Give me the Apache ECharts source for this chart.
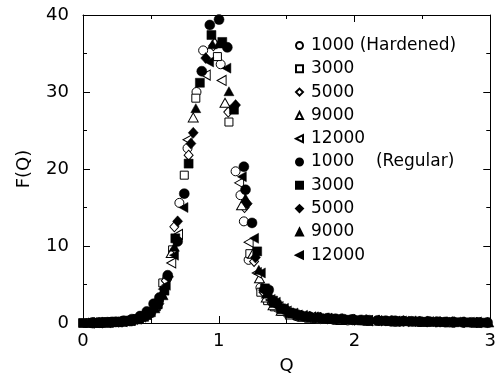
<!DOCTYPE html>
<html>
<head>
<meta charset="utf-8">
<script src="https://cdn.jsdelivr.net/npm/echarts@6/dist/echarts.min.js"></script>
<style>html,body{margin:0;padding:0;background:#fff}#c{width:499px;height:380px}</style>
</head>
<body>
<div id="c"></div>
<script>
// ---- data (Q, F(Q)) ----
const hard1000Q = [0.06,0.12,0.19,0.25,0.31,0.37,0.43,0.50,0.56,0.62,0.71,0.77,0.836,0.885,1.014,1.124,1.16,1.185,1.22,1.307,1.37,1.43,1.50,1.57,1.65,1.75,1.85,1.95,2.1,2.3,2.5,2.7,2.9];
const hard1000F = [0.03,0.06,0.1,0.16,0.25,0.45,0.8,1.5,2.9,5.8,15.6,22.7,30.0,35.4,33.6,19.7,16.6,13.2,8.2,4.6,3.0,2.0,1.3,0.9,0.6,0.5,0.4,0.33,0.25,0.18,0.13,0.1,0.06];

const hard3000Q = [0,0.05,0.09,0.13,0.18,0.22,0.27,0.31,0.36,0.40,0.45,0.49,0.54,0.588,0.66,0.746,0.831,0.99,1.075,1.229,1.31,1.36,1.41,1.46,1.52,1.6,1.7,1.8,1.9,2.05,2.25,2.45,2.65,2.85];
const hard3000F = [0,0.02,0.04,0.06,0.09,0.12,0.17,0.24,0.35,0.55,0.85,1.3,2.1,5.2,9.5,19.2,29.2,34.6,26.1,9.0,4.0,2.9,2.1,1.5,1.1,0.8,0.6,0.48,0.4,0.3,0.22,0.16,0.12,0.08];

const hard5000Q = [0.07,0.14,0.21,0.28,0.35,0.42,0.48,0.55,0.61,0.673,0.778,0.96,1.07,1.19,1.26,1.33,1.39,1.46,1.55,1.65,1.8,2.0,2.2,2.4,2.6,2.8];
const hard5000F = [0.03,0.06,0.1,0.17,0.3,0.6,1.2,2.6,5.5,12.5,21.8,36.0,27.4,15.0,8.0,4.0,2.6,1.7,1.1,0.8,0.55,0.4,0.28,0.2,0.14,0.09];

const hard9000Q = [0.04,0.10,0.16,0.22,0.28,0.34,0.40,0.46,0.52,0.58,0.65,0.812,0.97,1.046,1.168,1.25,1.30,1.35,1.40,1.46,1.53,1.62,1.75,1.9,2.1,2.3,2.5,2.7,2.9];
const hard9000F = [0.02,0.04,0.07,0.12,0.2,0.33,0.6,1.1,2.0,3.8,9.1,26.7,36.5,28.6,15.3,9.0,5.8,3.3,2.3,1.6,1.1,0.8,0.55,0.4,0.28,0.2,0.15,0.1,0.07];

const hard12000Q = [0.05,0.11,0.17,0.23,0.29,0.35,0.41,0.47,0.53,0.59,0.65,0.70,0.77,0.904,1.021,1.15,1.22,1.28,1.33,1.38,1.44,1.5,1.58,1.68,1.8,1.95,2.1,2.3,2.5,2.7,2.9];
const hard12000F = [0.02,0.05,0.08,0.13,0.22,0.38,0.7,1.3,2.3,4.4,7.8,11.5,23.8,32.2,31.5,18.2,10.5,6.5,4.2,3.0,2.1,1.5,1.0,0.75,0.55,0.42,0.32,0.23,0.17,0.12,0.08];

const reg1000Q = [0.065,0.12,0.18,0.24,0.30,0.36,0.42,0.47,0.52,0.563,0.624,0.697,0.746,0.875,0.934,1.002,1.063,1.185,1.197,1.245,1.368,1.43,1.49,1.55,1.61,1.67,1.74,1.80,1.86,1.92,1.98,2.05,2.11,2.17,2.23,2.3,2.36,2.42,2.48,2.55,2.61,2.67,2.73,2.8,2.86,2.92,2.98];
const reg1000F = [0.02,0.05,0.1,0.15,0.3,0.5,0.9,1.5,2.5,3.3,6.2,10.6,16.8,32.7,38.7,39.4,35.8,20.3,17.3,13.0,4.3,2.5,1.7,1.25,0.95,0.8,0.7,0.62,0.55,0.5,0.45,0.4,0.36,0.33,0.3,0.28,0.25,0.22,0.2,0.18,0.16,0.14,0.12,0.1,0.08,0.07,0.05];

const reg3000Q = [0,0.09,0.14,0.19,0.25,0.30,0.35,0.40,0.45,0.50,0.55,0.60,0.68,0.778,0.861,0.946,1.026,1.112,1.283,1.34,1.40,1.46,1.52,1.58,1.65,1.72,1.79,1.86,1.94,2.02,2.1,2.18,2.26,2.34,2.42,2.5,2.58,2.66,2.74,2.82,2.9,2.97];
const reg3000F = [0,0.04,0.06,0.09,0.13,0.2,0.3,0.48,0.8,1.4,2.4,4.2,11.0,20.7,31.2,37.4,36.5,27.7,9.3,4.5,2.9,1.9,1.35,1.0,0.8,0.66,0.56,0.48,0.42,0.37,0.32,0.28,0.25,0.22,0.19,0.16,0.14,0.12,0.1,0.08,0.06,0.05];

const reg5000Q = [0.08,0.15,0.22,0.29,0.36,0.43,0.50,0.56,0.63,0.697,0.795,0.812,0.904,1.124,1.21,1.27,1.33,1.39,1.45,1.52,1.59,1.67,1.75,1.83,1.91,2.0,2.09,2.18,2.27,2.36,2.45,2.54,2.63,2.72,2.81,2.9];
const reg5000F = [0.03,0.06,0.1,0.16,0.28,0.55,1.2,2.5,6.0,13.2,23.3,24.7,34.4,28.3,15.5,8.5,4.4,3.0,2.0,1.4,1.05,0.85,0.7,0.6,0.52,0.45,0.39,0.34,0.3,0.26,0.22,0.19,0.16,0.13,0.1,0.07];

const reg9000Q = [0.05,0.11,0.17,0.23,0.29,0.35,0.41,0.47,0.53,0.59,0.673,0.831,0.953,1.0,1.075,1.197,1.295,1.35,1.41,1.47,1.54,1.61,1.69,1.77,1.85,1.93,2.01,2.1,2.19,2.28,2.37,2.46,2.55,2.64,2.73,2.82,2.91,2.99];
const reg9000F = [0.02,0.04,0.07,0.11,0.18,0.3,0.55,1.05,1.9,3.6,9.9,27.9,36.2,36.3,30.1,16.2,6.9,3.8,2.6,1.8,1.25,0.95,0.78,0.66,0.56,0.49,0.43,0.37,0.32,0.28,0.24,0.21,0.18,0.15,0.12,0.1,0.08,0.06];

const reg12000Q = [0.07,0.13,0.19,0.25,0.31,0.37,0.43,0.49,0.55,0.61,0.67,0.74,0.929,1.056,1.17,1.26,1.31,1.36,1.42,1.48,1.55,1.62,1.7,1.78,1.87,1.96,2.05,2.15,2.25,2.35,2.45,2.55,2.65,2.75,2.85,2.95];
const reg12000F = [0.03,0.05,0.09,0.14,0.24,0.42,0.75,1.4,2.6,4.9,8.8,15.0,33.9,33.1,19.0,11.0,6.5,4.0,2.7,1.9,1.3,1.0,0.8,0.67,0.57,0.49,0.42,0.36,0.31,0.27,0.23,0.19,0.16,0.13,0.1,0.07];

const seriesNames = ['1000 (Hardened)','3000','5000','9000','12000','1000    (Regular)','3000 ','5000 ','9000 ','12000 '];
const xTicks = [0,1,2,3];
const yTicks = [0,10,20,30,40];

// ---- styling ----
const LEFT_TRI = 'path://M0,5L10,0L10,10Z';
const pairs = (q, f) => q.map((v, i) => [v, f[i]]);
const openStyle = {color:'#fff', borderColor:'#000', borderWidth:1, opacity:1};
const fillStyle = {color:'#000', borderColor:'#000', borderWidth:0.5, opacity:1};
const defs = [
  {q:hard1000Q, f:hard1000F, sym:'circle', size:9, st:openStyle},
  {q:hard3000Q, f:hard3000F, sym:'rect', size:8, st:openStyle},
  {q:hard5000Q, f:hard5000F, sym:'diamond', size:[9,10], st:openStyle},
  {q:hard9000Q, f:hard9000F, sym:'triangle', size:[10,9], st:openStyle},
  {q:hard12000Q, f:hard12000F, sym:LEFT_TRI, size:[9,10], st:openStyle},
  {q:reg1000Q, f:reg1000F, sym:'circle', size:10, st:fillStyle},
  {q:reg3000Q, f:reg3000F, sym:'rect', size:9, st:fillStyle},
  {q:reg5000Q, f:reg5000F, sym:'diamond', size:[10,11], st:fillStyle},
  {q:reg9000Q, f:reg9000F, sym:'triangle', size:[10,9], st:fillStyle},
  {q:reg12000Q, f:reg12000F, sym:LEFT_TRI, size:[9,10], st:fillStyle}
];
const series = defs.map((d, i) => ({
  name: seriesNames[i], type:'scatter', symbol:d.sym, symbolSize:d.size,
  itemStyle:d.st, data:pairs(d.q, d.f), animation:false, z: 2 + i,
  emphasis:{disabled:true}
}));

const font = 'DejaVu Sans';
const axisCommon = {
  axisLine:{show:true, onZero:false, lineStyle:{color:'#000', width:1}},
  axisTick:{show:true, inside:true, length:7, lineStyle:{color:'#000'}},
  minorTick:{show:true, splitNumber:2, length:4, lineStyle:{color:'#000'}},
  splitLine:{show:false}
};
const chart = echarts.init(document.getElementById('c'));
chart.setOption({
  backgroundColor:'#fff',
  animation:false,
  grid:{left:83, top:15, width:410, height:308},
  legend:{
    orient:'vertical', left:290, top:32, itemWidth:7, itemHeight:7, itemGap:6.3,
    data: seriesNames,
    textStyle:{fontFamily:font, fontSize:17, color:'#000', padding:[0,0,0,3], lineHeight:17},
    selectedMode:false
  },
  xAxis:[
    Object.assign({type:'value', min:0, max:3, interval:1, position:'bottom',
      name:'Q', nameLocation:'middle', nameGap:34,
      nameTextStyle:{fontFamily:font, fontSize:18, color:'#000'},
      axisLabel:{fontFamily:font, fontSize:18, color:'#000', margin:9, formatter:v=>xTicks.includes(v)?String(v):''}}, axisCommon),
    Object.assign({type:'value', min:0, max:3, interval:1, position:'top', axisLabel:{show:false}}, axisCommon)
  ],
  yAxis:[
    Object.assign({type:'value', min:0, max:40, interval:10, position:'left',
      name:'F(Q)', nameLocation:'middle', nameGap:50, nameRotate:90,
      nameTextStyle:{fontFamily:font, fontSize:18, color:'#000'},
      axisLabel:{fontFamily:font, fontSize:18, color:'#000', margin:14, formatter:v=>yTicks.includes(v)?String(v):''}}, axisCommon),
    Object.assign({type:'value', min:0, max:40, interval:10, position:'right', axisLabel:{show:false}}, axisCommon)
  ],
  series: series
});
</script>
</body>
</html>
